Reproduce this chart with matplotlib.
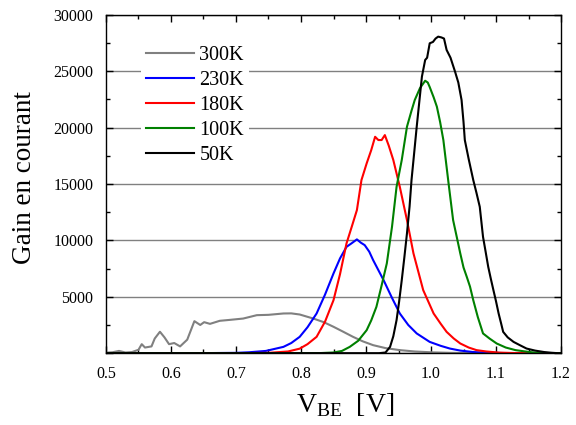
import matplotlib
matplotlib.use("Agg")
import matplotlib.pyplot as plt
from matplotlib.ticker import MultipleLocator, FuncFormatter

plt.rcParams['font.family'] = ['Liberation Serif', 'DejaVu Serif']
plt.rcParams['mathtext.fontset'] = 'custom'
plt.rcParams['mathtext.rm'] = 'Liberation Serif'

# 300K
v300 = [0.50, 0.51, 0.52, 0.53, 0.54, 0.55, 0.555, 0.56, 0.57, 0.575, 0.583, 0.59, 0.597, 0.605, 0.614,
        0.625, 0.636, 0.645, 0.651, 0.66, 0.675, 0.69, 0.711, 0.732, 0.75, 0.773, 0.785, 0.798, 0.819,
        0.835, 0.850, 0.865, 0.880, 0.895, 0.911, 0.93, 0.952, 0.975, 1.003, 1.03, 1.06, 1.10, 1.20]
g300 = [50, 80, 200, 60, 100, 300, 800, 500, 600, 1300, 1900, 1400, 800, 900, 600,
        1200, 2840, 2500, 2750, 2600, 2870, 2950, 3070, 3370, 3400, 3520, 3530, 3430, 3070,
        2750, 2340, 1900, 1450, 1050, 710, 450, 270, 150, 70, 30, 10, 0, 0]

# 230K
v230 = [0.50, 0.60, 0.65, 0.70, 0.72, 0.746, 0.773, 0.785, 0.798, 0.81, 0.824, 0.837, 0.850, 0.860,
        0.870, 0.878, 0.886, 0.892, 0.898, 0.905, 0.911, 0.927, 0.94, 0.952, 0.965, 0.978, 0.998,
        1.015, 1.029, 1.045, 1.065, 1.09, 1.12, 1.20]
g230 = [0, 0, 5, 30, 80, 200, 560, 900, 1450, 2300, 3520, 5200, 7070, 8400,
        9430, 9750, 10090, 9800, 9580, 9000, 8250, 6480, 4900, 3520, 2500, 1750, 1000,
        650, 410, 230, 100, 40, 0, 0]

# 180K
v180 = [0.50, 0.70, 0.75, 0.78, 0.798, 0.81, 0.824, 0.837, 0.850, 0.860, 0.870, 0.878, 0.886, 0.893,
        0.901, 0.908, 0.914, 0.919, 0.924, 0.929, 0.935, 0.942, 0.952, 0.963, 0.973, 0.988, 1.004,
        1.015, 1.024, 1.035, 1.045, 1.058, 1.070, 1.085, 1.105, 1.13, 1.20]
g180 = [0, 0, 30, 150, 400, 800, 1450, 2800, 4700, 7000, 9730, 11200, 12690, 15350,
        16830, 18000, 19190, 18900, 18900, 19340, 18400, 17130, 14750, 11800, 8850, 5590, 3520,
        2600, 1890, 1300, 860, 500, 270, 150, 50, 10, 0]

# 100K
v100 = [0.50, 0.80, 0.83, 0.85, 0.863, 0.875, 0.888, 0.901, 0.908, 0.916, 0.924, 0.932, 0.940,
        0.947, 0.955, 0.963, 0.970, 0.975, 0.983, 0.991, 0.995, 0.998, 1.004, 1.009, 1.014, 1.019,
        1.027, 1.034, 1.040, 1.045, 1.050, 1.055, 1.060, 1.065, 1.072, 1.080, 1.090, 1.101, 1.115,
        1.13, 1.145, 1.16, 1.18, 1.20]
g100 = [0, 0, 10, 60, 200, 560, 1100, 2040, 2900, 4110, 6000, 7960, 11210,
        14750, 17130, 20080, 21500, 22450, 23500, 24160, 24000, 23600, 22700, 21860, 20500, 18900,
        15060, 11800, 10200, 8850, 7600, 6770, 5900, 4700, 3200, 1750, 1300, 860, 500,
        270, 150, 50, 10, 0]

# 50K
v50 = [0.50, 0.90, 0.92, 0.93, 0.937, 0.942, 0.947, 0.951, 0.955, 0.959, 0.963, 0.967, 0.970,
       0.974, 0.978, 0.982, 0.986, 0.991, 0.994, 0.998, 1.003, 1.007, 1.011, 1.016, 1.020, 1.024,
       1.030, 1.037, 1.042, 1.047, 1.050, 1.052, 1.058, 1.065, 1.070, 1.075, 1.080, 1.084, 1.088,
       1.092, 1.096, 1.100, 1.104, 1.108, 1.111, 1.118, 1.127, 1.137, 1.147, 1.160, 1.174, 1.185,
       1.195, 1.20]
g50 = [0, 0, 0, 60, 560, 1500, 2930, 4600, 6480, 8500, 10620, 13000, 15350,
       17700, 20080, 22300, 24520, 26000, 26200, 27480, 27600, 27900, 28070, 28000, 27900, 26890,
       26200, 24960, 24000, 22450, 20500, 18900, 17200, 15350, 14200, 12980, 10320, 9000, 7660,
       6600, 5590, 4600, 3520, 2600, 1890, 1400, 1000, 700, 410, 230, 100, 40,
       0, 0]

labels = ['300K', '230K', '180K', '100K', '50K']
colors = ['#808080', '#0000ff', '#ff0000', '#008000', '#000000']

fig = plt.figure(figsize=(5.76, 4.25), dpi=100)
ax = fig.add_axes([0.184, 0.169, 0.790, 0.796])

for (vx, gy), lab, c in zip([(v300, g300), (v230, g230), (v180, g180), (v100, g100), (v50, g50)],
                            labels, colors):
    ax.plot(vx, gy, color=c, lw=1.5, label=lab)

ax.set_xlim(0.5, 1.2)
ax.set_ylim(0, 30000)
ax.xaxis.set_major_locator(MultipleLocator(0.1))
ax.xaxis.set_minor_locator(MultipleLocator(0.05))
ax.yaxis.set_major_locator(MultipleLocator(5000))
ax.yaxis.set_minor_locator(MultipleLocator(2500))
ax.xaxis.set_major_formatter(FuncFormatter(lambda v, p: f"{v:.1f}"))
ax.yaxis.set_major_formatter(FuncFormatter(lambda v, p: "" if abs(v) < 1 else f"{int(round(v))}"))
ax.tick_params(which='both', direction='in', top=True, right=True, labelsize=11.5, pad=9)
ax.tick_params(which='major', length=5, width=1)
ax.tick_params(which='minor', length=3, width=1)
ax.grid(axis='y', which='major', color='#808080', lw=1.0)
ax.set_axisbelow(True)
for s in ax.spines.values():
    s.set_linewidth(1.0)

ax.set_xlabel(r'V$_{\mathrm{BE}}$  [V]', fontsize=20)
ax.xaxis.set_label_coords(0.525, -0.112)
ax.set_ylabel('Gain en courant', fontsize=19.5)
ax.yaxis.set_label_coords(-0.152, 0.52)

leg = ax.legend(loc='upper left', bbox_to_anchor=(0.077, 0.922), fontsize=14.5, frameon=True,
                facecolor='white', edgecolor='none', framealpha=1, fancybox=False,
                handlelength=2.4, handletextpad=0.25, labelspacing=0.29, borderpad=0.25,
                borderaxespad=0)

fig.savefig('out.png', dpi=100)
